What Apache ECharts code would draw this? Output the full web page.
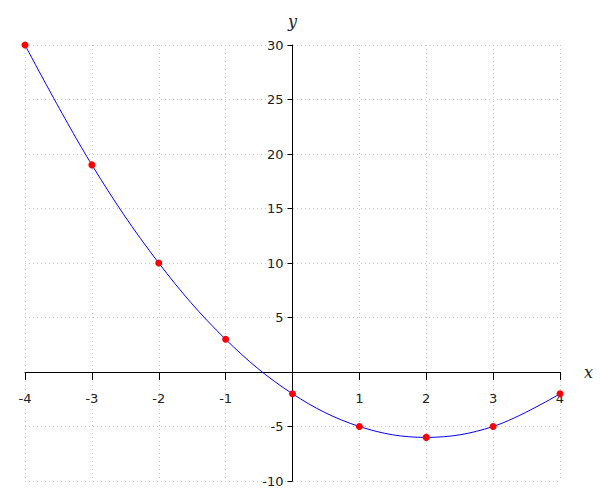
<!DOCTYPE html>
<html><head><meta charset="utf-8">
<script src="https://cdn.jsdelivr.net/npm/echarts@6/dist/echarts.min.js"></script>
<style>html,body{margin:0;padding:0;background:#fff}#c{width:600px;height:500px}</style>
</head><body><div id="c"></div>
<script>
const xValues = [-4, -3, -2, -1, 0, 1, 2, 3, 4];
const yValues = [30, 19, 10, 3, -2, -5, -6, -5, -2];
const xTicks = {min: -4, max: 4, interval: 1};
const yTicks = {min: -10, max: 30, interval: 5};

const data = xValues.map((x, i) => [x, yValues[i]]);
const chart = echarts.init(document.getElementById('c'), null, {renderer: 'svg'});
const gridBox = {left: 25, right: 40, top: 45, bottom: 19};
const plotW = 600 - gridBox.left - gridBox.right;
const plotH = 500 - gridBox.top - gridBox.bottom;
// offsets to place axes at the zero lines
const xAxisOffset = -plotH * (0 - yTicks.min) / (yTicks.max - yTicks.min);
const yAxisOffset = -plotW * (0 - xTicks.min) / (xTicks.max - xTicks.min);
const labelStyle = {color: '#222', fontFamily: 'DejaVu Sans', fontSize: 13};
const gridLine = {show: true, lineStyle: {color: '#c8c8c8', type: [1, 3], width: 1}};
chart.setOption({
  animation: false,
  grid: Object.assign({containLabel: false, outerBoundsMode: 'none'}, gridBox),
  xAxis: {
    type: 'value', min: xTicks.min, max: xTicks.max, interval: xTicks.interval,
    position: 'bottom', offset: xAxisOffset,
    name: 'x', nameLocation: 'end', nameGap: 24,
    nameTextStyle: {fontFamily: 'DejaVu Serif', fontStyle: 'italic', fontSize: 16, color: '#222', verticalAlign: 'middle', padding: [4, 0, 0, 0]},
    axisLine: {onZero: false, lineStyle: {color: '#000', width: 1}},
    axisTick: {show: true, inside: false, length: 8, lineStyle: {color: '#000'}},
    axisLabel: Object.assign({margin: 20, formatter: v => v === 0 ? '' : String(v)}, labelStyle),
    splitLine: gridLine
  },
  yAxis: {
    type: 'value', min: yTicks.min, max: yTicks.max, interval: yTicks.interval,
    position: 'left', offset: yAxisOffset,
    name: 'y', nameLocation: 'end', nameGap: 16,
    nameTextStyle: {fontFamily: 'DejaVu Serif', fontStyle: 'italic', fontSize: 16, color: '#222', align: 'center'},
    axisLine: {onZero: false, lineStyle: {color: '#000', width: 1}},
    axisTick: {show: true, inside: false, length: 5, lineStyle: {color: '#000'}},
    axisLabel: Object.assign({margin: 9, formatter: v => v === 0 ? '' : String(v)}, labelStyle),
    splitLine: gridLine
  },
  series: [{
    type: 'line', data: data, smooth: 0.36,
    lineStyle: {color: '#0000ff', width: 1},
    symbol: 'circle', symbolSize: 7,
    itemStyle: {color: '#ff0000'},
    z: 5
  }]
});
</script></body></html>
